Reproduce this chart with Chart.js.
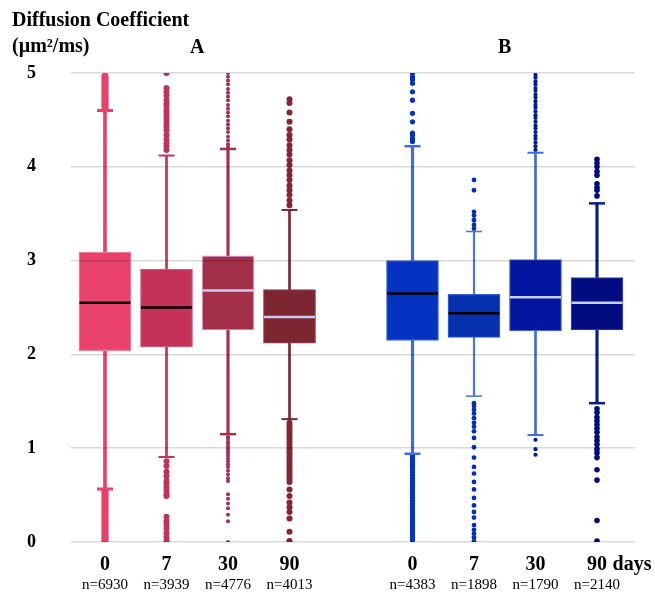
<!DOCTYPE html>
<html>
<head>
<meta charset="utf-8">
<script src="https://cdn.jsdelivr.net/npm/chart.js@4.4.0/dist/chart.umd.min.js"></script>
<style>
  html, body { margin: 0; padding: 0; background: #fff; }
</style>
</head>
<body>
<canvas id="boxChart" width="655" height="594"></canvas>
<script>
// slot of each box on the x axis (gap between groups A and B)
const positions = [0, 1, 2, 3, 5, 6, 7, 8];
const dayLabels = ['0', '7', '30', '90', '0', '7', '30', '90'];
const countLabels = ['n=6930', 'n=3939', 'n=4776', 'n=4013', 'n=4383', 'n=1898', 'n=1790', 'n=2140'];
const groupLabels = ['A', 'B'];
const groupCenters = [1.5, 6.5];
const unitLabel = 'days';
const unitPos = 8.57;
const yTicks = [0, 1, 2, 3, 4, 5];

const q1 = [2.04, 2.08, 2.26, 2.12, 2.15, 2.18, 2.25, 2.26];
const median = [2.55, 2.50, 2.68, 2.40, 2.65, 2.44, 2.61, 2.55];
const q3 = [3.09, 2.91, 3.05, 2.69, 3.00, 2.64, 3.01, 2.82];
const whiskerLow = [0.565, 0.906, 1.15, 1.31, 0.94, 1.555, 1.14, 1.48];
const whiskerHigh = [4.60, 4.12, 4.19, 3.54, 4.22, 3.31, 4.15, 3.61];

const outliers = [
    [4.97, 4.95, 4.93, 4.91, 4.89, 4.87, 4.85, 4.83, 4.81, 4.79, 4.77, 4.75, 4.73, 4.71, 4.69, 4.67, 4.65, 4.63, 4.61,
     0.55, 0.53, 0.51, 0.49, 0.47, 0.45, 0.43, 0.41, 0.39, 0.37, 0.35, 0.33, 0.31, 0.29, 0.27, 0.25, 0.23, 0.21,
     0.19, 0.17, 0.15, 0.13, 0.11, 0.09, 0.07, 0.05, 0.03, 0.01],
    [5.0, 4.84, 4.80, 4.76, 4.71, 4.67, 4.64, 4.60, 4.57, 4.53, 4.50, 4.46, 4.43, 4.39, 4.34, 4.29, 4.25, 4.22, 4.18,
     0.86, 0.81, 0.75, 0.70, 0.65, 0.62, 0.58, 0.55, 0.51, 0.49, 0.27, 0.22, 0.18, 0.14, 0.09, 0.05, 0.01],
    [5.0, 4.96, 4.92, 4.88, 4.83, 4.79, 4.75, 4.71, 4.66, 4.62, 4.58, 4.54, 4.49, 4.45, 4.41, 4.37, 4.32, 4.28, 4.24, 4.21,
     1.12, 1.10, 1.07, 1.05, 1.02, 1.0, 0.97, 0.95, 0.92, 0.89, 0.86, 0.83, 0.80, 0.76, 0.72, 0.68, 0.65,
     0.51, 0.46, 0.41, 0.36, 0.29, 0.22, 0.0],
    [4.72, 4.68, 4.58, 4.48, 4.40, 4.34, 4.29, 4.23, 4.18, 4.13, 4.07, 4.02, 3.96, 3.91, 3.86, 3.80, 3.75, 3.70, 3.64, 3.59,
     1.27, 1.24, 1.21, 1.18, 1.15, 1.12, 1.09, 1.06, 1.03, 1.0, 0.97, 0.94, 0.91, 0.88, 0.85, 0.82, 0.79, 0.76,
     0.73, 0.70, 0.67, 0.64, 0.56, 0.49, 0.42, 0.37, 0.32, 0.25, 0.11, 0.01],
    [5.0, 4.96, 4.93, 4.89, 4.80, 4.71, 4.57, 4.48, 4.36, 4.34, 4.30, 4.27,
     0.92, 0.89, 0.86, 0.83, 0.80, 0.77, 0.74, 0.71, 0.68, 0.65, 0.62, 0.59, 0.56, 0.53, 0.50, 0.47, 0.44, 0.41,
     0.38, 0.35, 0.32, 0.29, 0.26, 0.23, 0.20, 0.17, 0.14, 0.11, 0.08, 0.05, 0.02],
    [3.86, 3.75, 3.52, 3.48, 3.43, 3.38, 3.34,
     1.48, 1.45, 1.41, 1.37, 1.32, 1.27, 1.23, 1.18, 1.11, 1.01, 0.90, 0.80, 0.73, 0.64, 0.56, 0.47, 0.39, 0.32,
     0.26, 0.18, 0.13, 0.09, 0.05, 0.01],
    [4.98, 4.95, 4.91, 4.88, 4.84, 4.81, 4.77, 4.74, 4.70, 4.66, 4.63, 4.59, 4.55, 4.52, 4.48, 4.44, 4.41, 4.37,
     4.33, 4.30, 4.26, 4.22, 4.18,
     1.09, 0.99, 0.93],
    [4.08, 4.04, 4.0, 3.95, 3.91, 3.82, 3.78, 3.75, 3.69,
     1.42, 1.38, 1.33, 1.29, 1.25, 1.21, 1.17, 1.12, 1.08, 1.04, 0.99, 0.95, 0.90, 0.77, 0.66, 0.23, 0.01]
];

// styles
const boxColors = ['#e8416b', '#c43259', '#a32f48', '#7b2630', '#0433c1', '#0631ae', '#02169f', '#030b80'];
const boxBorders = ['#f27c9a', '#d4587c', '#d9a2d2', '#8c3a4a', '#4068e6', '#3a5cd8', '#4a60d8', '#3c48ba'];
const medianColors = ['#000000', '#000000', '#c9c9f6', '#c9c9f6', '#000000', '#000000', '#c8cef6', '#c8cef6'];
const whiskerColors = ['#e8416b', '#c43259', '#a32f48', '#7b2630', '#3f6ae2', '#4a72e4', '#3f6ae2', '#0a1a8c'];
const whiskerWidths = [3, 2, 2.5, 2, 2.5, 1.5, 2, 2.5];
const dotColors = ['#e8416b', '#c03259', '#a0305a', '#862432', '#0033c0', '#0530b5', '#0018a2', '#000b80'];
const dotRadius = [3.5, 3, 2, 3, 2.6, 2.4, 2.1, 2.8];

const serif = '"Liberation Serif", "Times New Roman", serif';

const datasets = [];
positions.forEach((x, i) => {
    datasets.push({
        type: 'bar',
        data: [{ x, y: [whiskerLow[i], whiskerHigh[i]] }],
        backgroundColor: whiskerColors[i],
        borderWidth: 0,
        barThickness: whiskerWidths[i],
        grouped: false,
        order: 6
    });
    datasets.push({
        type: 'bar',
        data: [{ x, y: [q1[i], q3[i]] }],
        backgroundColor: boxColors[i],
        borderColor: boxBorders[i],
        borderWidth: 1.2,
        borderSkipped: false,
        barThickness: 52,
        grouped: false,
        order: 5
    });
    datasets.push({
        type: 'scatter',
        data: outliers[i].map(v => ({ x, y: v })),
        pointRadius: dotRadius[i],
        pointBackgroundColor: dotColors[i],
        pointBorderWidth: 0,
        order: 4
    });
    datasets.push({
        type: 'scatter',
        data: [{ x, y: whiskerLow[i] }, { x, y: whiskerHigh[i] }],
        pointStyle: 'line',
        pointRadius: 8,
        pointBorderWidth: whiskerWidths[i],
        pointBorderColor: whiskerColors[i],
        order: 3
    });
    datasets.push({
        type: 'scatter',
        data: [{ x, y: median[i] }],
        pointStyle: 'line',
        pointRadius: 25.5,
        pointBorderWidth: 2.5,
        pointBorderColor: medianColors[i],
        order: 1
    });
});

// caption, group letters, sample sizes and unit
const captions = {
    id: 'captions',
    afterDraw(chart) {
        const { ctx } = chart;
        const xs = chart.scales.x;
        ctx.save();
        ctx.fillStyle = '#000';
        ctx.textBaseline = 'middle';
        ctx.font = 'bold 20px ' + serif;
        ctx.textAlign = 'left';
        ctx.fillText('Diffusion Coefficient', 12, 21);
        ctx.fillText('(µm²/ms)', 12, 47);
        ctx.textAlign = 'center';
        groupLabels.forEach((g, i) => {
            ctx.fillText(g, xs.getPixelForValue(groupCenters[i]), 48);
        });
        ctx.fillText(unitLabel, xs.getPixelForValue(unitPos), 565);
        ctx.font = '15px ' + serif;
        countLabels.forEach((t, i) => {
            ctx.fillText(t, xs.getPixelForValue(positions[i]), 585);
        });
        ctx.restore();
    }
};

new Chart(document.getElementById('boxChart'), {
    type: 'bar',
    data: { datasets },
    options: {
        responsive: false,
        animation: false,
        events: [],
        layout: { autoPadding: false, padding: { top: 73, left: 27, right: 20, bottom: 6 } },
        plugins: {
            legend: { display: false },
            tooltip: { enabled: false }
        },
        scales: {
            x: {
                type: 'linear',
                min: -0.553,
                max: 8.618,
                offset: false,
                bounds: 'data',
                grid: { display: false, drawTicks: false, tickLength: 0 },
                border: { display: false },
                afterBuildTicks: axis => { axis.ticks = positions.map(v => ({ value: v })); },
                ticks: {
                    autoSkip: false,
                    maxRotation: 0,
                    padding: 0,
                    color: '#000',
                    font: { family: serif, size: 20, weight: 'bold', lineHeight: '46px' },
                    callback: (v, i) => dayLabels[i]
                }
            },
            y: {
                min: 0,
                max: 5,
                afterBuildTicks: axis => { axis.ticks = yTicks.map(v => ({ value: v })); },
                grid: { color: 'rgba(0,0,0,0.15)', lineWidth: 1.5, drawTicks: false, z: 1 },
                border: { display: false },
                ticks: {
                    crossAlign: 'far',
                    padding: 17.5,
                    color: '#000',
                    font: { family: serif, size: 18, weight: 'bold' }
                }
            }
        }
    },
    plugins: [captions]
});
</script>
</body>
</html>
